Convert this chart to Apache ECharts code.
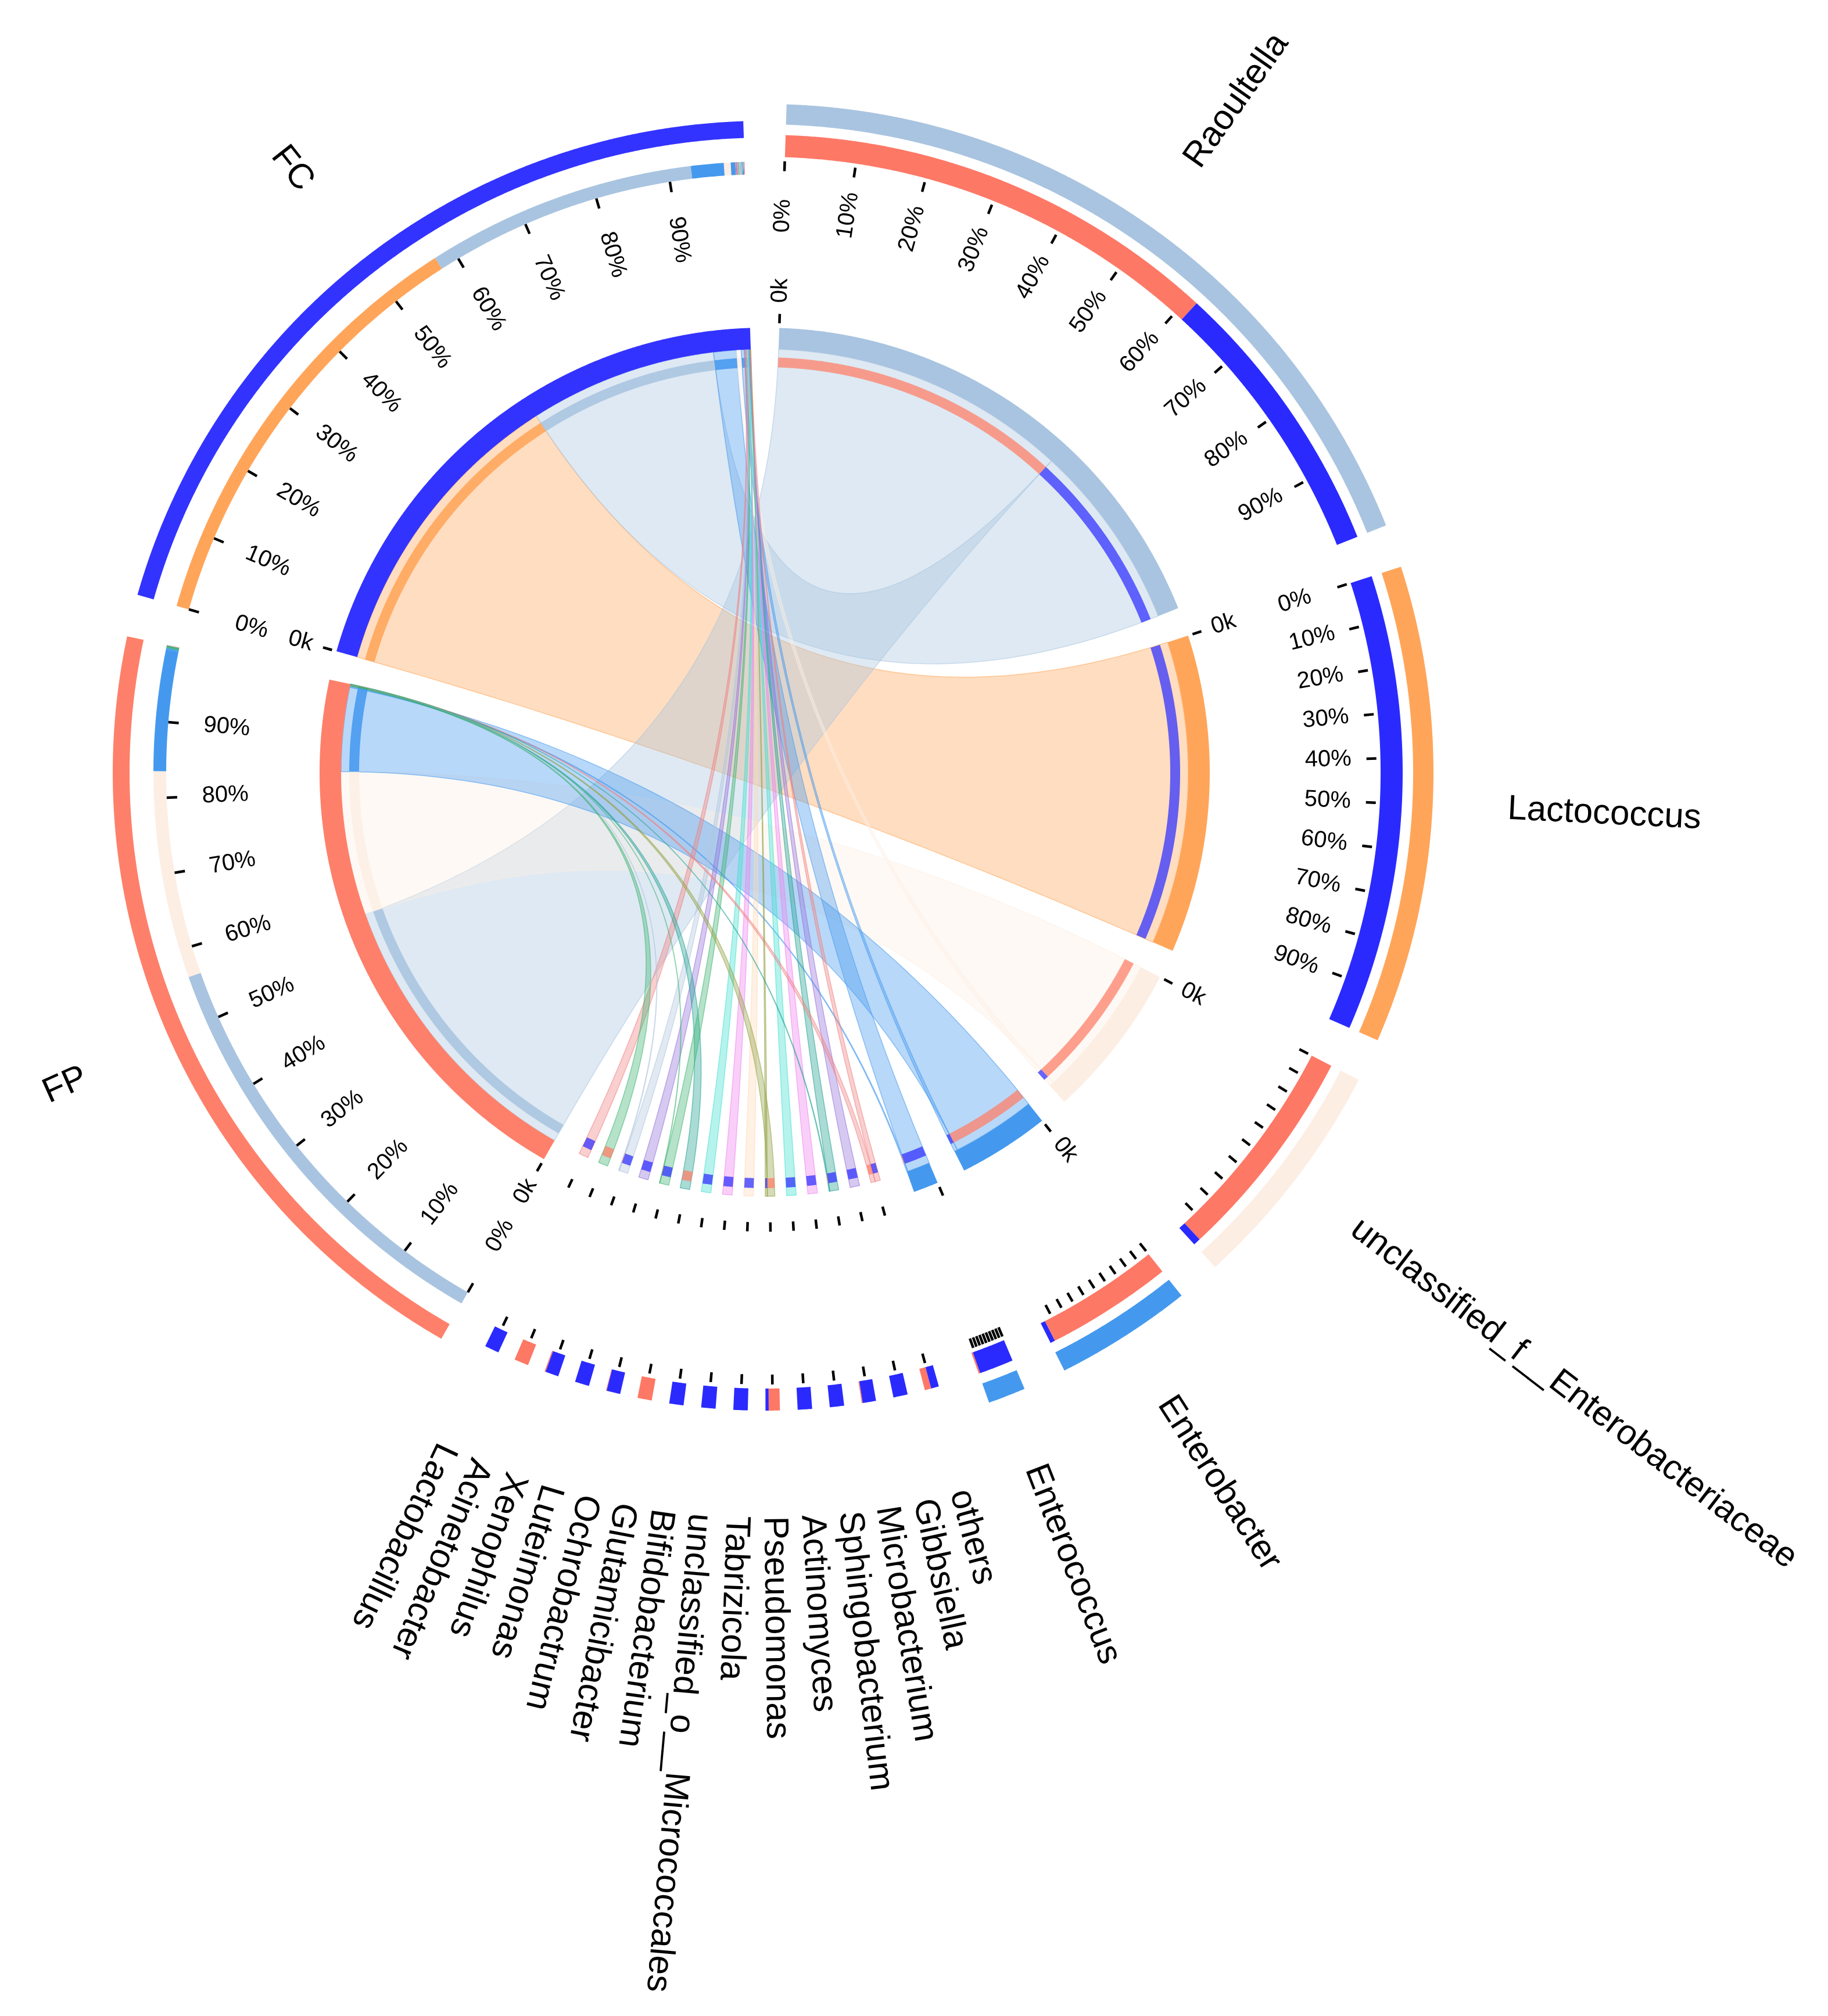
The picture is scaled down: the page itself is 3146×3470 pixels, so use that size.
<!DOCTYPE html>
<html>
<head>
<meta charset="utf-8">
<script src="https://cdn.jsdelivr.net/npm/echarts@6/dist/echarts.min.js"></script>
<style>
html,body{margin:0;padding:0;background:#ffffff;}
#chart{width:3146px;height:3470px;}
</style>
</head>
<body>
<div id="chart"></div>
<script>
// ---------------- DATA ----------------
const genera = ['Raoultella','Lactococcus','unclassified_f__Enterobacteriaceae','Enterobacter','Enterococcus','others','Gibbsiella','Microbacterium','Sphingobacterium','Actinomyces','Pseudomonas','Tabrizicola','unclassified_o__Micrococcales','Bifidobacterium','Glutamicibacter','Ochrobactrum','Luteimonas','Xenophilus','Acinetobacter','Lactobacillus'];
// percent of each sample
const generaFC = [35.5, 57.4, 0.9, 0.6, 4.3, 0.06, 0.08, 0.08, 0.08, 0.09, 0.02, 0.10, 0.10, 0.10, 0, 0.11, 0.12, 0.12, 0, 0.15];
const generaFP = [56.3, 0, 27.2, 15.9, 0.2, 0.05, 0, 0.006, 0, 0, 0.07, 0, 0, 0, 0.11, 0.005, 0, 0.01, 0.14, 0];
const generaColors = ['#a9c4e0','#ffa55a','#fdeee4','#4499ee','#4499ee','#f08080','#9370db','#20a090','#ee82ee','#40e0d0','#8fa040','#ffd9b8','#ee82ee','#40e0d0','#20a090','#3cb371','#9370db','#b0c4de','#3cb371','#f08080'];
const samples = ['FP','FC'];
const sampleColors = ['#fe806a','#3333ff'];
const sampleCompColors = ['#fe7866','#2a2aff'];
const pctTicks = [0,10,20,30,40,50,60,70,80,90];
const pctLabels = ['0%','10%','20%','30%','40%','50%','60%','70%','80%','90%'];
const innerTickLabel = '0k';

// ---------------- LAYOUT PARAMS (style) ----------------
const MIN_SIZE = 1.8, GAP_BIG = 5.2, GAP_SMALL = 2.2;
const R = {
  ribbon: 729, thin: [698, 715], thick: [729, 766], innerTick: [774, 790], innerLabel: 809,
  sample: {tick: [1012, 1030], label: 889, comp: [1030, 1052], outer: [1093, 1122]},
  genus:  {tick: [1036, 1053], label: 930, comp: [1060, 1098], outer: [1116, 1151]},
  name: 1280
};
const FONT = '"Liberation Sans", Arial, Helvetica, sans-serif';

function rgba(hex, a){
  const h = hex.replace('#','');
  const r = parseInt(h.substr(0,2),16), g = parseInt(h.substr(2,2),16), b = parseInt(h.substr(4,2),16);
  return 'rgba(' + r + ',' + g + ',' + b + ',' + a + ')';
}

// ---------------- SEGMENTS ----------------
const segs = [];
genera.forEach((g, i) => segs.push({name: g, kind: 'genus', i: i, total: generaFC[i] + generaFP[i], color: generaColors[i]}));
samples.forEach((s, j) => {
  const vals = j === 0 ? generaFP : generaFC;
  segs.push({name: s, kind: 'sample', i: j, total: vals.reduce((a, b) => a + b, 0), color: sampleColors[j]});
});
segs.forEach(s => { s.small = s.total < MIN_SIZE; s.size = Math.max(s.total, MIN_SIZE); });
let pos = GAP_BIG / 2;
segs.forEach((s, k) => {
  s.start = pos; s.end = pos + s.size; s.mid = (s.start + s.end) / 2;
  const nx = segs[(k + 1) % segs.length];
  pos = s.end + ((s.small && nx.small) ? GAP_SMALL : GAP_BIG);
});
const TOTAL = segs[segs.length - 1].end + GAP_BIG / 2;
const sampleSeg = j => segs[genera.length + j];

// ---------------- LINKS ----------------
const links = [];
genera.forEach((g, i) => {
  [generaFP[i], generaFC[i]].forEach((v, j) => { if (v > 0) links.push({g: i, s: j, v: v}); });
});
samples.forEach((s, j) => {
  const seg = sampleSeg(j);
  const L = links.filter(l => l.s === j).sort((a, b) => (b.v - a.v) || (a.g - b.g));
  let p = seg.start;
  L.forEach(l => { l.s0 = p; l.s1 = p + l.v; p = l.s1; });
});
genera.forEach((g, i) => {
  const seg = segs[i];
  const L = links.filter(l => l.g === i).sort((a, b) => (b.v - a.v) || (a.s - b.s));
  const k = seg.size / seg.total;
  let p = seg.start;
  L.forEach(l => { l.t0 = p; l.t1 = p + l.v * k; p = l.t1; });
});

// ---------------- SHAPES ----------------
const ribbons = [], bands = [], ticks = [], texts = [];
links.slice().sort((a, b) => b.v - a.v).forEach(l => {
  ribbons.push({s0: l.s0, s1: l.s1, t0: l.t0, t1: l.t1, color: generaColors[l.g]});
});
links.forEach(l => {
  bands.push({r0: R.thin[0], r1: R.thin[1], a0: l.s0, a1: l.s1, fill: rgba(generaColors[l.g], 0.88)});
  bands.push({r0: R.thin[0], r1: R.thin[1], a0: l.t0, a1: l.t1, fill: rgba(sampleColors[l.s], 0.75)});
  bands.push({r0: R.sample.comp[0], r1: R.sample.comp[1], a0: l.s0, a1: l.s1, fill: generaColors[l.g]});
  bands.push({r0: R.genus.comp[0], r1: R.genus.comp[1], a0: l.t0, a1: l.t1, fill: sampleCompColors[l.s]});
});
segs.forEach(s => {
  const rr = s.kind === 'sample' ? R.sample : R.genus;
  if (!s.small) {
    bands.push({r0: R.thick[0], r1: R.thick[1], a0: s.start, a1: s.end, fill: s.color});
    bands.push({r0: rr.outer[0], r1: rr.outer[1], a0: s.start, a1: s.end, fill: s.color});
  }
  // inner ticks
  const ia = s.small ? s.mid : s.start;
  ticks.push({r0: R.innerTick[0], r1: R.innerTick[1], a: ia});
  if (s.size >= 10) texts.push({r: R.innerLabel, a: s.start, text: innerTickLabel, size: 40, flipA: s.mid});
  // outer percentage ticks
  if (s.small) {
    ticks.push({r0: rr.tick[0], r1: rr.tick[1], a: s.mid});
  } else {
    pctTicks.forEach((p, k) => {
      const a = s.start + p / 100 * s.size;
      ticks.push({r0: rr.tick[0], r1: rr.tick[1], a: a});
      if (s.size >= 40) texts.push({r: rr.label, a: a, text: pctLabels[k], size: 40, flipA: s.mid});
    });
  }
  texts.push({r: R.name, a: s.mid, text: s.name, size: 60, flipA: s.mid});
});

// ---------------- RENDER HELPERS ----------------
function arcPts(api, r, a0, a1){
  const n = Math.max(2, Math.ceil(Math.abs(a1 - a0) / 0.2));
  const pts = [];
  for (let k = 0; k <= n; k++) pts.push(api.coord([r, a0 + (a1 - a0) * k / n]));
  return pts;
}
function quadPts(p0, c, p1, n){
  const pts = [];
  for (let k = 1; k < n; k++) {
    const t = k / n, u = 1 - t;
    pts.push([u*u*p0[0] + 2*u*t*c[0] + t*t*p1[0], u*u*p0[1] + 2*u*t*c[1] + t*t*p1[1]]);
  }
  return pts;
}
function renderRibbon(params, api){
  const sh = ribbons[api.value(2)];
  const c = api.coord([0, 0]);
  const A = arcPts(api, R.ribbon, sh.s0, sh.s1);
  const B = arcPts(api, R.ribbon, sh.t0, sh.t1);
  const pts = A.concat(quadPts(A[A.length - 1], c, B[0], 60), B, quadPts(B[B.length - 1], c, A[0], 60));
  return {type: 'polygon', shape: {points: pts}, style: {fill: rgba(sh.color, 0.38), stroke: rgba(sh.color, 0.55), lineWidth: 1.5}, silent: true};
}
function renderBand(params, api){
  const sh = bands[api.value(2)];
  const O = arcPts(api, sh.r1, sh.a0, sh.a1);
  const I = arcPts(api, sh.r0, sh.a0, sh.a1).reverse();
  return {type: 'polygon', shape: {points: O.concat(I)}, style: {fill: sh.fill, stroke: null}, silent: true};
}
function renderTick(params, api){
  const sh = ticks[api.value(2)];
  const p0 = api.coord([sh.r0, sh.a]), p1 = api.coord([sh.r1, sh.a]);
  return {type: 'line', shape: {x1: p0[0], y1: p0[1], x2: p1[0], y2: p1[1]}, style: {stroke: '#000', lineWidth: 4.5}, silent: true};
}
function renderText(params, api){
  const sh = texts[api.value(2)];
  const c = api.coord([0, sh.a]);
  const p = api.coord([sh.r, sh.a]);
  const phi = Math.atan2(p[1] - c[1], p[0] - c[0]);
  const m = api.coord([100, sh.flipA]);
  const phiM = Math.atan2(m[1] - c[1], m[0] - c[0]);
  const theta = ((phiM * 180 / Math.PI) + 90 + 720) % 360;
  const flip = theta > 225;
  const align = flip ? 'right' : 'left';
  return {
    type: 'text', x: p[0], y: p[1], rotation: flip ? -(phi + Math.PI) : -phi, silent: true,
    style: {text: sh.text, fill: '#000', font: sh.size + 'px ' + FONT, align: align, verticalAlign: 'middle', textAlign: align, textVerticalAlign: 'middle'}
  };
}
function toData(arr){ return arr.map((s, i) => [s.r || s.r0 || 0, s.a || s.a0 || s.s0 || 0, i]); }

// ---------------- CHART ----------------
const chart = echarts.init(document.getElementById('chart'), null, {renderer: 'canvas'});
chart.setOption({
  backgroundColor: '#ffffff',
  animation: false,
  polar: {center: [1316, 1330], radius: 1400},
  angleAxis: {type: 'value', min: 0, max: TOTAL, startAngle: 90, clockwise: true, show: false},
  radiusAxis: {type: 'value', min: 0, max: 1400, show: false},
  series: [
    {type: 'custom', coordinateSystem: 'polar', renderItem: renderRibbon, data: toData(ribbons), encode: {radius: 0, angle: 1}, z: 1, silent: true},
    {type: 'custom', coordinateSystem: 'polar', renderItem: renderBand, data: toData(bands), encode: {radius: 0, angle: 1}, z: 2, silent: true},
    {type: 'custom', coordinateSystem: 'polar', renderItem: renderTick, data: toData(ticks), encode: {radius: 0, angle: 1}, z: 3, silent: true},
    {type: 'custom', coordinateSystem: 'polar', renderItem: renderText, data: toData(texts), encode: {radius: 0, angle: 1}, z: 4, silent: true}
  ]
});
</script>
</body>
</html>
